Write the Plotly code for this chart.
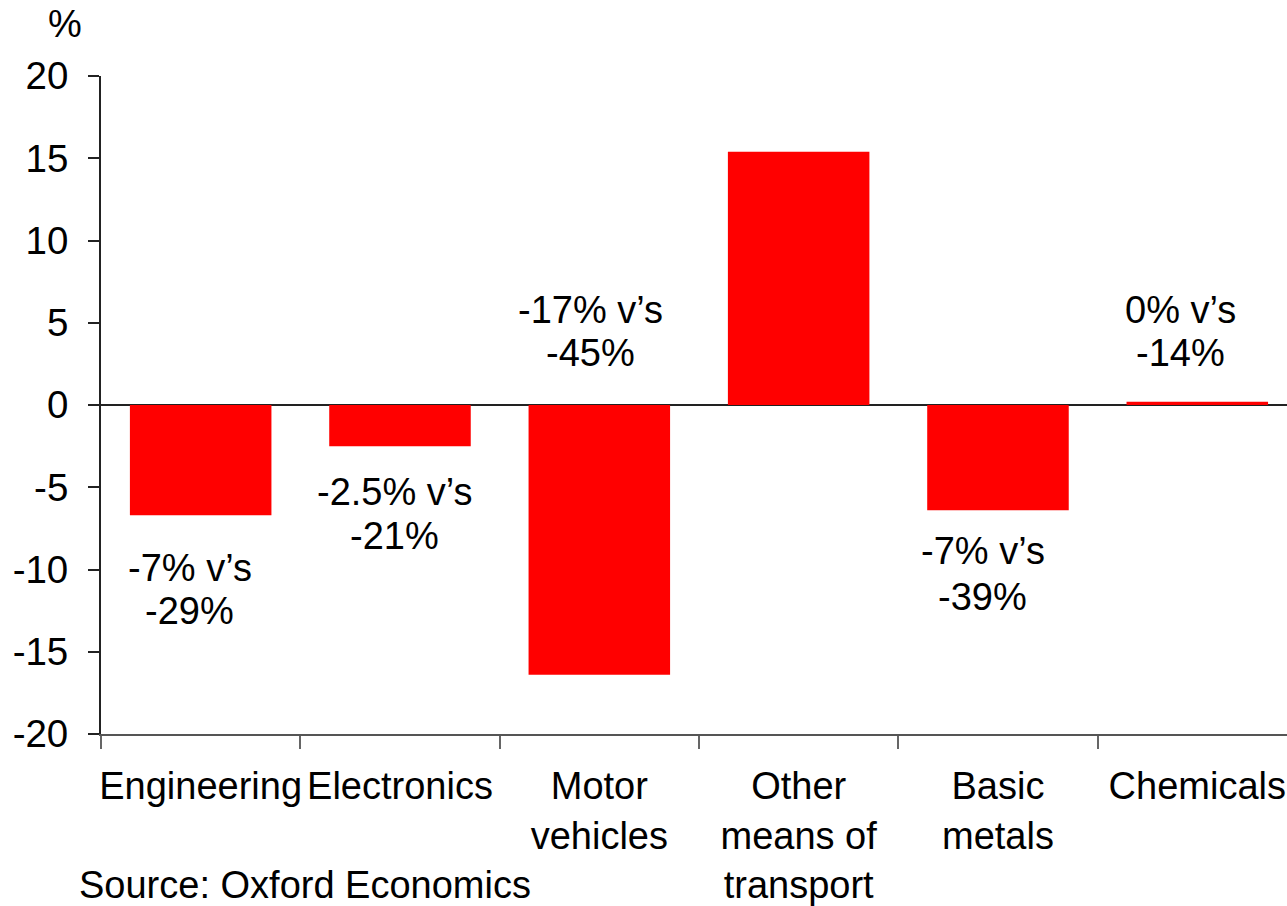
import plotly.graph_objects as go

# Sector output change, % (bars) with the comparison text shown beside each bar
categories = ["Engineering", "Electronics", "Motor vehicles",
              "Other means of transport", "Basic metals", "Chemicals"]
tick_text = ["Engineering", "Electronics", "Motor<br>vehicles",
             "Other<br>means of<br>transport", "Basic<br>metals", "Chemicals"]
values = [-6.7, -2.5, -16.4, 15.4, -6.4, 0.2]

y_ticks = [-20, -15, -10, -5, 0, 5, 10, 15, 20]
y_tick_text = ["-20", "-15", "-10", "-5", "0", "5", "10", "15", "20"]

# Comparison labels: (category, first line, second line)
label_lines = [
    ("Engineering", "-7% v\u2019s", "-29%"),
    ("Electronics", "-2.5% v\u2019s", "-21%"),
    ("Motor vehicles", "-17% v\u2019s", "-45%"),
    ("Basic metals", "-7% v\u2019s", "-39%"),
    ("Chemicals", "0% v\u2019s", "-14%"),
]
# vertical placement of each label pair (data units) and horizontal nudge (px)
label_y = {
    "Engineering": (-9.9, -12.5, -11),
    "Electronics": (-5.3, -7.95, -5),
    "Motor vehicles": (5.75, 3.15, -9),
    "Basic metals": (-8.9, -11.65, -15),
    "Chemicals": (5.75, 3.15, -17),
}

FONT = "Liberation Sans, Arial, sans-serif"
FS = 38

fig = go.Figure(go.Bar(
    x=categories, y=values, width=0.71,
    marker=dict(color="#ff0000", line=dict(width=0)),
))

annotations = []
for cat, l1, l2 in label_lines:
    y1, y2, dx = label_y[cat]
    for txt, yy in ((l1, y1), (l2, y2)):
        annotations.append(dict(
            x=cat, y=yy, xref="x", yref="y", text=txt, showarrow=False,
            xanchor="center", yanchor="middle", xshift=dx,
            font=dict(family=FONT, size=FS, color="black"),
        ))

# axis unit and source note
annotations.append(dict(
    x=(65 - 101) / 1186, y=(734 - 24) / 658, xref="paper", yref="paper",
    text="%", showarrow=False, xanchor="center", yanchor="middle",
    font=dict(family=FONT, size=FS, color="black"),
))
annotations.append(dict(
    x=(77 - 101) / 1186, y=(734 - 862) / 658, xref="paper", yref="paper",
    text="Source: Oxford Economics", showarrow=False, xanchor="left", yanchor="top",
    font=dict(family=FONT, size=FS, color="black"),
))

fig.update_layout(
    width=1287, height=906,
    margin=dict(l=101, r=0, t=76, b=172, autoexpand=False),
    paper_bgcolor="white", plot_bgcolor="white",
    showlegend=False,
    font=dict(family=FONT, size=FS, color="black"),
    annotations=annotations,
    xaxis=dict(
        type="category", categoryorder="array", categoryarray=categories,
        tickvals=categories, ticktext=tick_text,
        range=[-0.5, 5.45], tickson="boundaries", tickangle=0,
        ticks="outside", ticklen=13, tickwidth=1.5, tickcolor="#666666",
        ticklabelstandoff=18,
        showline=True, linecolor="#555555", linewidth=1.5,
        showgrid=False, zeroline=False,
        tickfont=dict(family=FONT, size=FS, color="black"),
    ),
    yaxis=dict(
        range=[-20, 20], tickmode="array", tickvals=y_ticks, ticktext=y_tick_text,
        ticks="outside", ticklen=11, tickwidth=1.5, tickcolor="#222222",
        ticklabelstandoff=12,
        showline=True, linecolor="#222222", linewidth=2,
        showgrid=False,
        zeroline=True, zerolinecolor="#222222", zerolinewidth=2,
        tickfont=dict(family=FONT, size=38.5, color="black"),
    ),
)

fig.write_html("out.html")
